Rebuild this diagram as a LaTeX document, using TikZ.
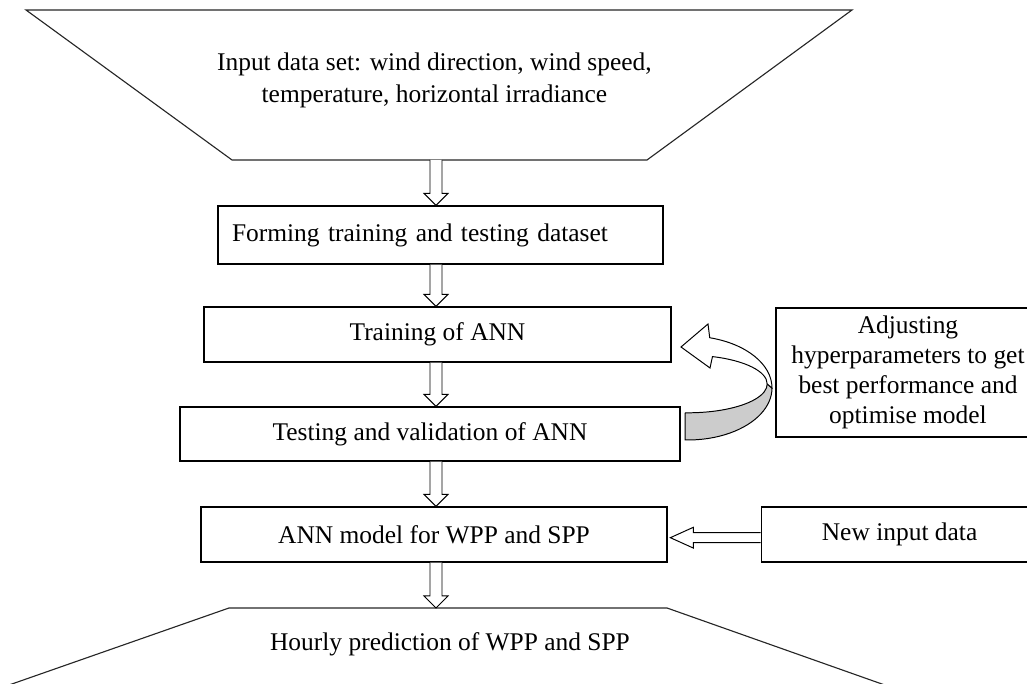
\documentclass[tikz,border=0pt]{standalone}
\usepackage{fontspec}
\setmainfont{Liberation Serif}
\usetikzlibrary{calc,positioning}
\tikzset{
  edge/.style={line width=0.8pt,black!85},
  stage/.style={draw,line width=0.8pt,align=center,inner sep=0pt},
  blk/.style={draw,line width=0.7pt,fill=white},
  ribbon/.style={draw,line width=0.7pt},
}
% hollow block arrow pointing down, from #1 to #2
\newcommand\blkdown[2]{%
  \draw[blk] ($(#1)+(-0.15,0)$) -- ($(#2)+(-0.15,0.3)$) -- ($(#2)+(-0.3,0.3)$)
    -- (#2) -- ($(#2)+(0.3,0.3)$) -- ($(#2)+(0.15,0.3)$) -- ($(#1)+(0.15,0)$);}

\begin{document}
\begin{tikzpicture}[font=\fontsize{18.1}{22.8}\selectfont]
  \useasboundingbox (0,0) rectangle (25.675,17.1);
  \clip (0,0) rectangle (25.675,17.1);

  % input data (top trapezoid)
  \draw[edge] (0.65,16.85) -- (21.3,16.85) -- (16.175,13.1) -- (5.8,13.1) -- cycle;
  \node[align=center] (inp) at (10.86,15.08)
    {Input data set: wind direction, wind speed,\\temperature, horizontal irradiance};
  \coordinate (inpb) at (10.9,13.1);

  % main stages
  \node[stage,minimum height=1.45cm,text width=10.425cm,inner xsep=0.35cm,align=left]
    (form) at (11.0125,11.225) {Forming training and testing dataset};
  \node[stage,minimum width=11.675cm,minimum height=1.375cm] (train) at (10.9375,8.7375) {Training of ANN};
  \node[stage,minimum width=12.5cm,minimum height=1.35cm] (test) at (10.75,6.25) {Testing and validation of ANN};
  \node[stage,minimum width=11.65cm,minimum height=1.375cm] (model) at (10.85,3.7375) {ANN model for WPP and SPP};

  % side boxes
  \node[stage,minimum width=6.6cm,minimum height=3.225cm,font=\fontsize{18.1}{21.2}\selectfont]
    (adj) at (22.7,7.7875) {Adjusting\\hyperparameters to get\\best performance and\\optimise model};
  \node[stage,minimum width=6.925cm,minimum height=1.375cm] (newin) at (22.49,3.7375) {New input data};

  % output (bottom trapezoid)
  \draw[edge] (-1.13,-0.5) -- (5.725,1.9) -- (16.675,1.9) -- (23.46,-0.5);
  \node (outp) at (11.25,1.0) {Hourly prediction of WPP and SPP};
  \coordinate (outt) at (10.9,1.9);

  % block arrows down the chain
  \foreach \a/\b in {inpb/form.north,form.south/train.north,train.south/test.north,
                     test.south/model.north,model.south/outt}
    \blkdown{\a -| inpb}{\b -| inpb};

  % new data into the model
  \coordinate (hin) at ($(model.east)+(0.07,-0.08)$);
  \draw[blk] ($(newin.west |- hin)+(0,0.125)$) -- ($(hin)+(0.575,0.125)$) -- ($(hin)+(0.575,0.26)$)
    -- (hin) -- ($(hin)+(0.575,-0.26)$) -- ($(hin)+(0.575,-0.125)$) -- ($(newin.west |- hin)+(0,-0.125)$);

  % feedback loop from testing back to training
  \coordinate (loop) at (17.2,7.4);
  \begin{scope}[shift={(loop)}]
    \draw[ribbon,fill=gray!40] (2.1,0) arc[start angle=0,end angle=-92,x radius=2.1,y radius=1.3]
      -- (-0.069,-0.62) arc[start angle=-92,end angle=0,x radius=1.98,y radius=0.72] -- cycle;
    \draw[ribbon,fill=white] (0.5435,1.256) arc[start angle=75,end angle=0,x radius=2.1,y radius=1.3]
      -- (1.98,0.1) arc[start angle=0,end angle=72,x radius=1.98,y radius=0.72]
      -- (0.55,0.5) -- (-0.175,1.025) -- (0.5,1.6) -- cycle;
  \end{scope}
\end{tikzpicture}
\end{document}
